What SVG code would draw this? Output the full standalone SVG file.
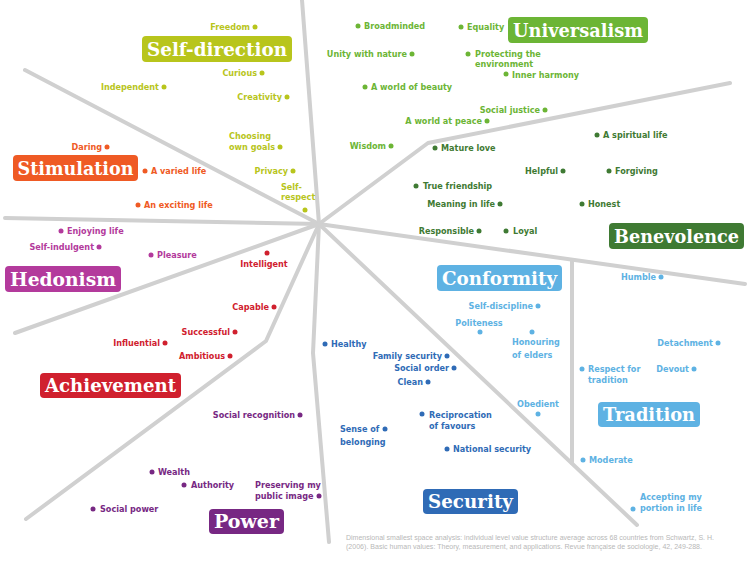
<svg xmlns="http://www.w3.org/2000/svg" width="749" height="562" viewBox="0 0 749 562">
<style>
.ln{stroke:#d0d0d0;stroke-width:4;fill:none;stroke-linecap:round;stroke-linejoin:round}
.t{font-family:"DejaVu Sans Condensed","DejaVu Sans",sans-serif;font-size:9px;font-weight:bold}
.e{text-anchor:end}.m{text-anchor:middle}
.h{font-family:"DejaVu Serif",serif;font-weight:bold;font-size:19px;fill:#fff;text-anchor:middle}
.sd{fill:#b8c51c}.st{fill:#ef5a24}.he{fill:#b33a9c}.ac{fill:#d0202e}.po{fill:#772883}
.un{fill:#6cb535}.be{fill:#3f7a33}.co{fill:#5eb2e3}.se{fill:#2f6bb6}
.fn{font-family:"Liberation Sans",sans-serif;font-size:7px;fill:#b8b8b8}
</style>
<rect width="749" height="562" fill="#fff"/>
<g id="connectors">
<path class="ln" d="M302,0 L319,224"/>
<path class="ln" d="M25,70 L319,224"/>
<path class="ln" d="M5,218 L319,224"/>
<path class="ln" d="M15,333 L319,224"/>
<path class="ln" d="M319,224 L266,341 L26,519"/>
<path class="ln" d="M319,224 L313,353 L329,542"/>
<path class="ln" d="M319,224 L637,525"/>
<path class="ln" d="M572,260 L572,463"/>
<path class="ln" d="M319,224 L745,284"/>
<path class="ln" d="M319,224 L428,143 L730,83"/>
</g>
<g id="self-direction">
<rect class="sd" x="142" y="36" width="150" height="26" rx="4"/>
<text class="h" x="217" y="56" textLength="140" lengthAdjust="spacingAndGlyphs">Self-direction</text>
<g class="sd">
<circle cx="255" cy="27" r="2.5"/><text class="t e" x="250" y="30">Freedom</text>
<circle cx="262" cy="73" r="2.5"/><text class="t e" x="257" y="76">Curious</text>
<circle cx="164" cy="87" r="2.5"/><text class="t e" x="159" y="90">Independent</text>
<circle cx="287" cy="97" r="2.5"/><text class="t e" x="282" y="100">Creativity</text>
<circle cx="280" cy="147" r="2.5"/><text class="t" x="229" y="139">Choosing</text><text class="t" x="229" y="150">own goals</text>
<circle cx="293" cy="171" r="2.5"/><text class="t e" x="288" y="174">Privacy</text>
<circle cx="305" cy="210" r="2.5"/><text class="t" x="281" y="190">Self-</text><text class="t" x="281" y="200">respect</text>
</g>
</g>
<g id="stimulation">
<rect class="st" x="13" y="155" width="125" height="26" rx="4"/>
<text class="h" x="75.5" y="175" textLength="116" lengthAdjust="spacingAndGlyphs">Stimulation</text>
<g class="st">
<circle cx="107" cy="147" r="2.5"/><text class="t e" x="102" y="150">Daring</text>
<circle cx="145" cy="171" r="2.5"/><text class="t" x="151" y="174">A varied life</text>
<circle cx="138" cy="205" r="2.5"/><text class="t" x="144" y="208">An exciting life</text>
</g>
</g>
<g id="hedonism">
<rect class="he" x="5" y="266" width="116" height="26" rx="4"/>
<text class="h" x="63" y="286" textLength="106" lengthAdjust="spacingAndGlyphs">Hedonism</text>
<g class="he">
<circle cx="61" cy="231" r="2.5"/><text class="t" x="67" y="234">Enjoying life</text>
<circle cx="99" cy="247" r="2.5"/><text class="t e" x="94" y="250">Self-indulgent</text>
<circle cx="151" cy="255" r="2.5"/><text class="t" x="157" y="258">Pleasure</text>
</g>
</g>
<g id="achievement">
<rect class="ac" x="40" y="373" width="141" height="25" rx="4"/>
<text class="h" x="110.5" y="392" textLength="131" lengthAdjust="spacingAndGlyphs">Achievement</text>
<g class="ac">
<circle cx="267" cy="253" r="2.5"/><text class="t m" x="264" y="267">Intelligent</text>
<circle cx="274" cy="307" r="2.5"/><text class="t e" x="269" y="310">Capable</text>
<circle cx="235" cy="332" r="2.5"/><text class="t e" x="230" y="335">Successful</text>
<circle cx="165" cy="343" r="2.5"/><text class="t e" x="160" y="346">Influential</text>
<circle cx="230" cy="356" r="2.5"/><text class="t e" x="225" y="359">Ambitious</text>
</g>
</g>
<g id="power">
<rect class="po" x="209" y="509" width="75" height="25" rx="4"/>
<text class="h" x="246.5" y="528" textLength="65" lengthAdjust="spacingAndGlyphs">Power</text>
<g class="po">
<circle cx="300" cy="415" r="2.5"/><text class="t e" x="295" y="418">Social recognition</text>
<circle cx="152" cy="472" r="2.5"/><text class="t" x="158" y="475">Wealth</text>
<circle cx="184" cy="485" r="2.5"/><text class="t" x="191" y="488">Authority</text>
<circle cx="319" cy="496" r="2.5"/><text class="t" x="255" y="488">Preserving my</text><text class="t" x="255" y="499">public image</text>
<circle cx="93" cy="509" r="2.5"/><text class="t" x="100" y="512">Social power</text>
</g>
</g>
<g id="universalism">
<rect class="un" x="508" y="17" width="140" height="26" rx="4"/>
<text class="h" x="578" y="37" textLength="130" lengthAdjust="spacingAndGlyphs">Universalism</text>
<g class="un">
<circle cx="358" cy="26" r="2.5"/><text class="t" x="364" y="29">Broadminded</text>
<circle cx="461" cy="27" r="2.5"/><text class="t" x="467" y="30">Equality</text>
<circle cx="412" cy="54" r="2.5"/><text class="t e" x="407" y="57">Unity with nature</text>
<circle cx="468" cy="54" r="2.5"/><text class="t" x="475" y="57">Protecting the</text><text class="t" x="475" y="67">environment</text>
<circle cx="506" cy="74" r="2.5"/><text class="t" x="512" y="77.5">Inner harmony</text>
<circle cx="365" cy="87" r="2.5"/><text class="t" x="371" y="90">A world of beauty</text>
<circle cx="545" cy="110" r="2.5"/><text class="t e" x="540" y="113">Social justice</text>
<circle cx="487" cy="121" r="2.5"/><text class="t e" x="482" y="124">A world at peace</text>
<circle cx="391" cy="146" r="2.5"/><text class="t e" x="386" y="149">Wisdom</text>
</g>
</g>
<g id="benevolence">
<rect class="be" x="609" y="223" width="135" height="26" rx="4"/>
<text class="h" x="676.5" y="243" textLength="125" lengthAdjust="spacingAndGlyphs">Benevolence</text>
<g class="be">
<circle cx="435" cy="148" r="2.5"/><text class="t" x="441" y="151">Mature love</text>
<circle cx="597" cy="135" r="2.5"/><text class="t" x="603" y="138">A spiritual life</text>
<circle cx="563" cy="171" r="2.5"/><text class="t e" x="558" y="174">Helpful</text>
<circle cx="609" cy="171" r="2.5"/><text class="t" x="615" y="174">Forgiving</text>
<circle cx="416" cy="186" r="2.5"/><text class="t" x="423" y="189">True friendship</text>
<circle cx="500" cy="204" r="2.5"/><text class="t e" x="495" y="207">Meaning in life</text>
<circle cx="582" cy="204" r="2.5"/><text class="t" x="588" y="207">Honest</text>
<circle cx="479" cy="231" r="2.5"/><text class="t e" x="474" y="234">Responsible</text>
<circle cx="506" cy="231" r="2.5"/><text class="t" x="513" y="234">Loyal</text>
</g>
</g>
<g id="conformity">
<rect class="co" x="437" y="265" width="125" height="26" rx="4"/>
<text class="h" x="499.5" y="285" textLength="115" lengthAdjust="spacingAndGlyphs">Conformity</text>
<g class="co">
<circle cx="661" cy="277" r="2.5"/><text class="t e" x="656" y="280">Humble</text>
<circle cx="538" cy="306" r="2.5"/><text class="t e" x="533" y="309">Self-discipline</text>
<circle cx="480" cy="332" r="2.5"/><text class="t m" x="479" y="326">Politeness</text>
<circle cx="532" cy="332" r="2.5"/><text class="t" x="512" y="345">Honouring</text><text class="t" x="512" y="358">of elders</text>
<circle cx="538" cy="414" r="2.5"/><text class="t m" x="538" y="407">Obedient</text>
</g>
</g>
<g id="tradition">
<rect class="co" x="598" y="402" width="102" height="25" rx="4"/>
<text class="h" x="649" y="421" textLength="92" lengthAdjust="spacingAndGlyphs">Tradition</text>
<g class="co">
<circle cx="718" cy="343" r="2.5"/><text class="t e" x="713" y="346">Detachment</text>
<circle cx="694" cy="369" r="2.5"/><text class="t e" x="689" y="372">Devout</text>
<circle cx="582" cy="369" r="2.5"/><text class="t" x="588" y="372">Respect for</text><text class="t" x="588" y="383">tradition</text>
<circle cx="583" cy="460" r="2.5"/><text class="t" x="589" y="463">Moderate</text>
<circle cx="633" cy="509" r="2.5"/><text class="t" x="640" y="500">Accepting my</text><text class="t" x="640" y="511">portion in life</text>
</g>
</g>
<g id="security">
<rect class="se" x="423" y="489" width="95" height="25" rx="4"/>
<text class="h" x="470.5" y="508" textLength="85" lengthAdjust="spacingAndGlyphs">Security</text>
<g class="se">
<circle cx="325" cy="344" r="2.5"/><text class="t" x="331" y="347">Healthy</text>
<circle cx="447" cy="356" r="2.5"/><text class="t e" x="442" y="359">Family security</text>
<circle cx="454" cy="368" r="2.5"/><text class="t e" x="449" y="371">Social order</text>
<circle cx="428" cy="382" r="2.5"/><text class="t e" x="423" y="385">Clean</text>
<circle cx="422" cy="414" r="2.5"/><text class="t" x="429" y="418">Reciprocation</text><text class="t" x="429" y="429">of favours</text>
<circle cx="385" cy="429" r="2.5"/><text class="t" x="340" y="432">Sense of</text><text class="t" x="340" y="445">belonging</text>
<circle cx="447" cy="449" r="2.5"/><text class="t" x="453" y="452">National security</text>
</g>
</g>
<g id="footnote">
<text class="fn" x="346" y="540" textLength="368" lengthAdjust="spacingAndGlyphs">Dimensional smallest space analysis: individual level value structure average across 68 countries from Schwartz, S. H.</text>
<text class="fn" x="346" y="549" textLength="356" lengthAdjust="spacingAndGlyphs">(2006). Basic human values: Theory, measurement, and applications. Revue française de sociologie, 42, 249-288.</text>
</g>
</svg>
